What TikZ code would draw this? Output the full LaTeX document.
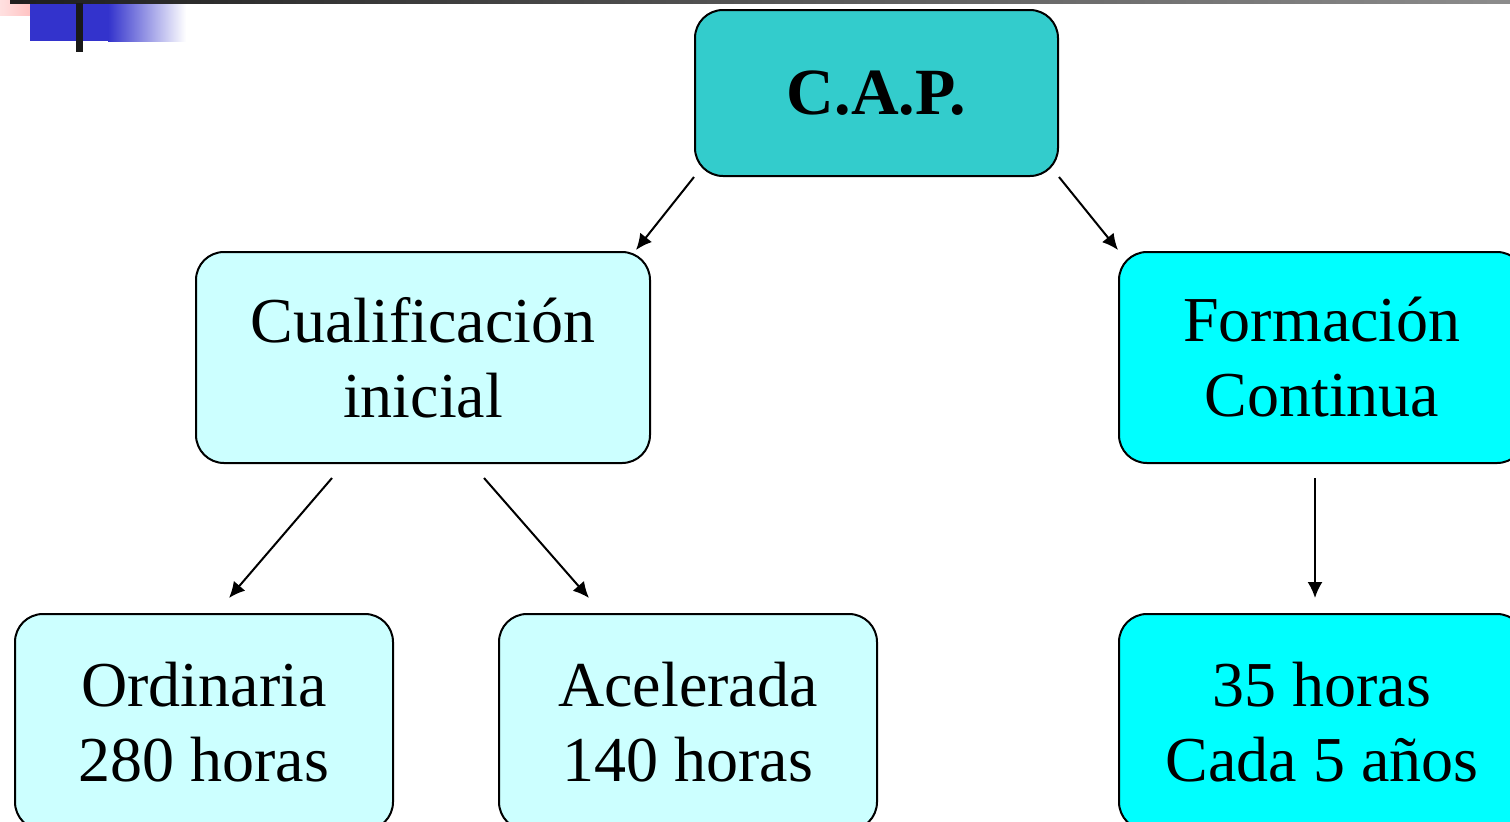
\documentclass[tikz,border=0pt]{standalone}
\usepackage{fontspec}
\setmainfont{Liberation Serif}
\newfontfamily\tnr{Liberation Serif}
\usetikzlibrary{arrows.meta}
\definecolor{capfill}{HTML}{33CCCC}
\definecolor{palefill}{HTML}{CCFFFF}
\definecolor{cyanfill}{HTML}{00FFFF}
\definecolor{decoblue}{HTML}{3333CC}
\tikzset{
  box/.style={draw=black, line width=1pt, rounded corners=14pt, align=center,
    font=\tnr\fontsize{32pt}{37.5pt}\selectfont, inner sep=0pt},
  conn/.style={line width=1pt, -{Latex[length=8pt,width=7.5pt]}}
}
\begin{document}
\begin{tikzpicture}[x=0.5pt,y=-0.5pt]
\useasboundingbox (0,0) rectangle (1510,821);
\clip (0,0) rectangle (1510,821);
% decoration
\shade[left color=red!12, right color=red!35] (0,0) rectangle (61,15);
\fill[decoblue] (30,3) rectangle (108,41);
\shade[left color=decoblue, right color=white] (108,3) rectangle (186,41);
\shade[left color=black!88, right color=black!45] (10,0) rectangle (1510,3);
\fill[black!90] (76,3) rectangle (83,52);
% boxes
\node[box, fill=capfill, minimum width=181.5pt, minimum height=83pt,
  font=\tnr\fontsize{33pt}{38pt}\selectfont\bfseries] (cap) at (876.5,93) {C.A.P.};
\node[box, fill=palefill, minimum width=227pt, minimum height=105.5pt] (cual) at (423,357.5) {Cualificación\\inicial};
\node[box, fill=cyanfill, minimum width=203pt, minimum height=105.5pt] (form) at (1322,357.5) {Formación\\Continua};
\node[box, fill=palefill, minimum width=189pt, minimum height=108pt] (ord) at (204,722) {Ordinaria\\280 horas};
\node[box, fill=palefill, minimum width=189pt, minimum height=108pt] (acel) at (688,722) {Acelerada\\140 horas};
\node[box, fill=cyanfill, minimum width=203pt, minimum height=108pt] (cada) at (1322,722) {35 horas\\Cada 5 años};
% connector ends
\coordinate (e1) at (636,250);
\coordinate (e2) at (1118,250);
\coordinate (s3) at (332,478);
\coordinate (e3) at (229,598);
\coordinate (s4) at (484,478);
\coordinate (e4) at (589,598);
\coordinate (s5) at (1315,478);
\coordinate (e5) at (1315,598);
\draw[conn] (cap.south west) -- (e1);
\draw[conn] (cap.south east) -- (e2);
\draw[conn] (s3) -- (e3);
\draw[conn] (s4) -- (e4);
\draw[conn] (s5) -- (e5);
\end{tikzpicture}
\end{document}
